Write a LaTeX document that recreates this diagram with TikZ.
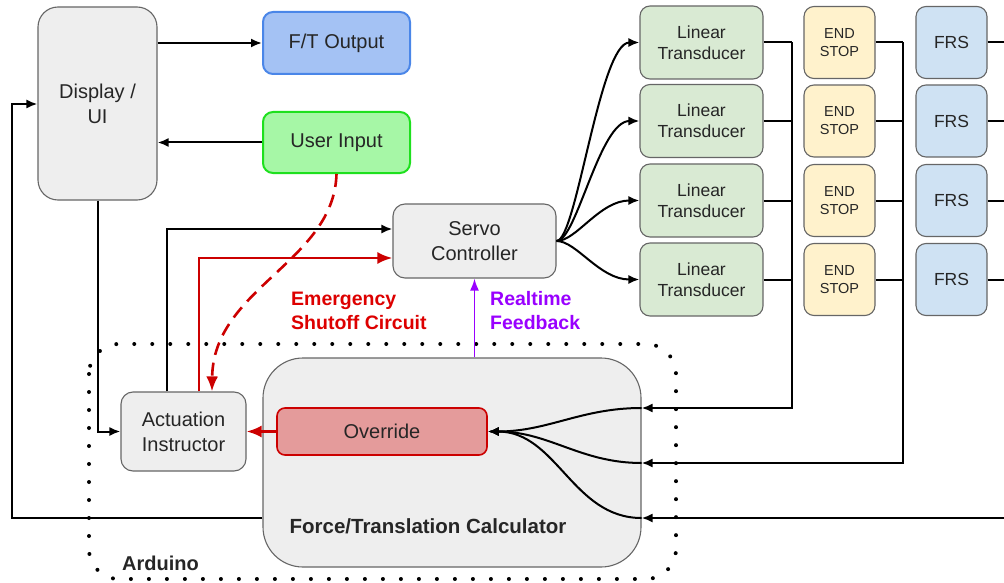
\documentclass[tikz,border=0pt]{standalone}
\usepackage{fontspec}
\setmainfont{Liberation Sans}
\usetikzlibrary{arrows.meta}
\definecolor{boxgray}{HTML}{EEEEEE}
\definecolor{edgegray}{HTML}{666666}
\definecolor{txt}{HTML}{262626}
\definecolor{ftfill}{HTML}{A4C2F4}
\definecolor{ftedge}{HTML}{4A86E8}
\definecolor{uifill}{HTML}{A6F7A6}
\definecolor{uiedge}{HTML}{1EE01E}
\definecolor{ltfill}{HTML}{D9EAD3}
\definecolor{esfill}{HTML}{FFF2CC}
\definecolor{frsfill}{HTML}{CFE2F3}
\definecolor{ovfill}{HTML}{E49B9B}
\definecolor{myred}{HTML}{CC0000}
\definecolor{lblred}{HTML}{DD0000}
\definecolor{mypurple}{HTML}{9900FF}
\begin{document}
\begin{tikzpicture}[x=1pt,y=-1pt,
  box/.style={draw=edgegray, fill=boxgray, line width=1.1pt, rounded corners=12pt,
    text=txt, align=center, inner sep=0pt, font=\fontsize{20}{25}\selectfont},
  smallbox/.style={box, rounded corners=10pt, font=\fontsize{17.5}{21}\selectfont},
  lbl/.style={font=\bfseries\fontsize{19.5}{24}\selectfont, align=left, anchor=west, inner sep=0pt},
  conn/.style={line width=2pt, black},
  arr/.style={conn, -{Latex[length=11pt,width=9pt]}},
  rarr/.style={line width=2.6pt, myred, -{Latex[length=15pt,width=12pt]}},
  parr/.style={line width=1.8pt, mypurple, -{Latex[length=12pt,width=9pt]}},
  dots/.style={line width=4pt, line cap=round, dash pattern=on 0pt off 18pt, rounded corners=30pt}
]
\useasboundingbox (0,0) rectangle (1004,583);

% Arduino boundary
\draw[dots] (89,344) rectangle (676,579);
\node[lbl, font=\bfseries\fontsize{20}{24}\selectfont, text=txt] (ard) at (122,563) {Arduino};

% main nodes
\node[box, rounded corners=20pt, minimum width=119pt, minimum height=193pt] (display) at (97.5,103.5) {Display /\\UI};
\node[box, draw=ftedge, fill=ftfill, line width=2pt, rounded corners=10pt, minimum width=147pt, minimum height=62pt] (ftout) at (336.5,43) {F/T Output};
\node[box, draw=uiedge, fill=uifill, line width=2pt, rounded corners=10pt, minimum width=147pt, minimum height=61pt] (userin) at (336.5,142.5) {User Input};
\node[box, minimum width=163pt, minimum height=74pt] (servo) at (474.5,241) {Servo\\Controller};
\node[box, minimum width=125pt, minimum height=79pt] (act) at (183.5,431.5) {Actuation\\Instructor};
\node[box, rounded corners=40pt, minimum width=378pt, minimum height=209pt] (ftcalc) at (452,462.5) {};
\node[font=\bfseries\fontsize{20.5}{24}\selectfont, text=txt, inner sep=0pt] (ftlabel) at (428,526) {Force/Translation Calculator};
\node[box, draw=myred, fill=ovfill, line width=1.6pt, rounded corners=8pt, minimum width=210pt, minimum height=47pt] (override) at (382,431.5) {Override};

% right column
\foreach \i/\y in {1/42.5,2/121,3/200.5,4/279.5}{
  \node[smallbox, fill=ltfill, minimum width=123pt, minimum height=73pt] (lt\i) at (701.5,\y) {Linear\\Transducer};
  \node[smallbox, fill=esfill, minimum width=71pt, minimum height=72pt, font=\fontsize{14.5}{18}\selectfont] (es\i) at (839.5,\y) {END\\STOP};
  \node[smallbox, fill=frsfill, minimum width=71pt, minimum height=72pt] (frs\i) at (951.5,\y) {FRS};
}

% coordinates
\coordinate (ltbus) at (792,408);
\coordinate (esbus) at (903,463);
\coordinate (frsbus) at (1004,518);
\coordinate (leftbus) at (12,518);

% top-left connectors
\draw[arr] (display.east |- ftout.west) -- (ftout.west);
\draw[arr] (userin.west) -- (display.east |- userin.west);
\draw[arr] (ftcalc.west |- leftbus) -- (leftbus) -- (leftbus |- 0,104) -- (display.west |- 0,104);
\draw[arr] (display.south) |- (act.west);

% actuation to servo
\draw[arr] ([xshift=-16.5pt]act.north) |- ([yshift=12pt]servo.west);
\draw[rarr] ([xshift=15.5pt]act.north) |- ([yshift=-17pt]servo.west);
\draw[myred, line width=2.6pt, dash pattern=on 13pt off 8pt, -{Latex[length=15pt,width=12pt]}]
  (userin.south) .. controls (334,262) and (213,288) .. ([xshift=28.5pt]act.north);

% override to actuation
\draw[rarr] (override.west) -- (act.east);

% realtime feedback
\draw[parr] (servo.south |- ftcalc.north) -- (servo.south);

% labels
\node[lbl, text=lblred] (emlbl) at (291,311) {Emergency\\Shutoff Circuit};
\node[lbl, text=mypurple] (rtlbl) at (490,311) {Realtime\\Feedback};

% servo to transducers
\foreach \i in {1,2,3,4}{
  \draw[arr] (servo.east) .. controls +(20,0) and +(-40,0) .. (lt\i.west);
}

% buses
\foreach \i in {1,2,3,4}{
  \draw[conn] (lt\i.east) -- (lt\i.east -| ltbus);
  \draw[conn] (es\i.east) -- (es\i.east -| esbus);
  \draw[conn] (frs\i.east) -- (frs\i.east -| frsbus);
}
\draw[arr] (ltbus |- lt1.east) -- (ltbus) -- (ftcalc.east |- ltbus);
\draw[arr] (esbus |- es1.east) -- (esbus) -- (ftcalc.east |- esbus);
\draw[arr] (frsbus) -- (ftcalc.east |- frsbus);

% inside calculator to override
\draw[arr] (ftcalc.east |- ltbus) to[out=180,in=0] (override.east);
\draw[arr] (ftcalc.east |- esbus) to[out=180,in=0] (override.east);
\draw[arr] (ftcalc.east |- frsbus) to[out=180,in=0] (override.east);
\end{tikzpicture}
\end{document}
